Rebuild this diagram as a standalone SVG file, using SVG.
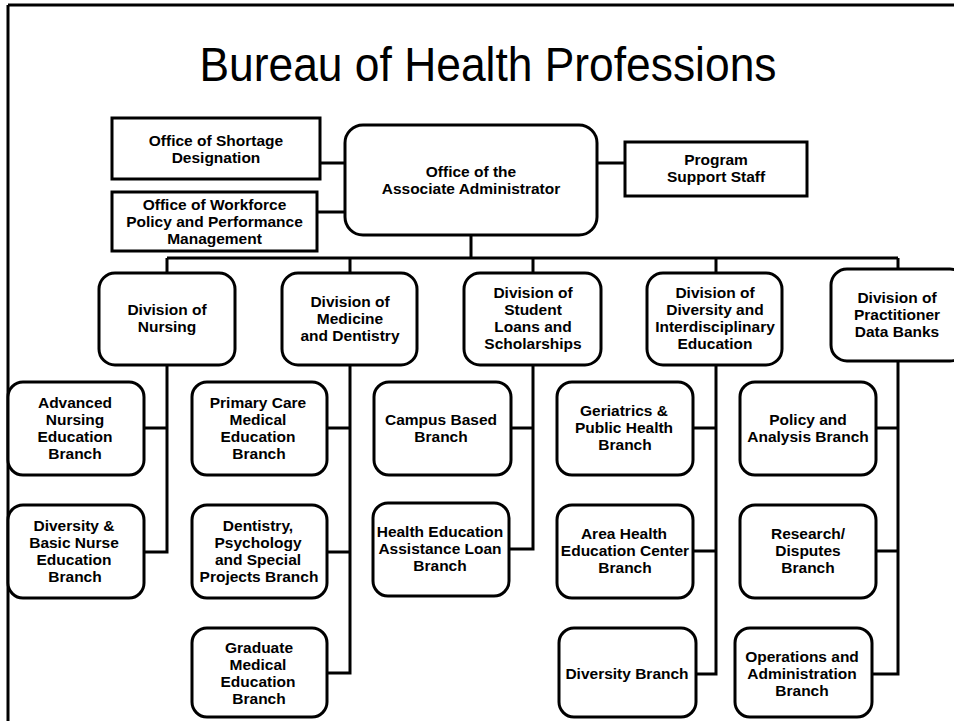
<svg xmlns="http://www.w3.org/2000/svg" width="954" height="721" viewBox="0 0 954 721">
<style>
.box{fill:#fff;stroke:#000;stroke-width:3}
.ln{fill:none;stroke:#000;stroke-width:3}
.t{font-family:"Liberation Sans",Arial,sans-serif;font-weight:bold;font-size:15.5px;text-anchor:middle;fill:#000}
.title{font-family:"Liberation Sans",Arial,sans-serif;font-size:49px;text-anchor:middle;fill:#000}
</style>
<rect x="0" y="0" width="954" height="721" fill="#fff"/>
<g id="frame"><path class="ln" d="M8 5 H954 M8 5 V721" stroke-width="2.5"/></g>
<text class="title" x="488" y="81" textLength="577" lengthAdjust="spacingAndGlyphs">Bureau of Health Professions</text>

<g id="connectors">
<path class="ln" d="M320 163 H345 M317 212 H345 M597 163 H625 M471 235 V258 M167 258 H898"/>
<path class="ln" d="M167 258 V273 M350 258 V273 M533 258 V273 M716 258 V273 M898 258 V269"/>
<path class="ln" d="M167 365 V553.5 M144 428 H167 M144 552 H168.5"/>
<path class="ln" d="M350 365 V674.5 M327 428 H350 M327 552 H350 M327 673 H351.5"/>
<path class="ln" d="M533 365 V550.5 M511 428 H533 M509 549 H534.5"/>
<path class="ln" d="M716 365 V675.5 M693 428 H716 M693 551 H716 M696 674 H717.5"/>
<path class="ln" d="M898 361 V675.5 M876 428 H898 M876 551 H898 M872 674 H899.5"/>
</g>

<g id="shortage"><rect class="box" x="112" y="118" width="208" height="61"/>
<text class="t" x="216"><tspan x="216" y="146">Office of Shortage</tspan><tspan x="216" y="163">Designation</tspan></text></g>
<g id="workforce"><rect class="box" x="112" y="192" width="205" height="59"/>
<text class="t"><tspan x="214.5" y="210">Office of Workforce</tspan><tspan x="214.5" y="227">Policy and Performance</tspan><tspan x="214.5" y="244">Management</tspan></text></g>
<g id="oaa"><rect class="box" x="345" y="125" width="252" height="110" rx="18"/>
<text class="t"><tspan x="471" y="177">Office of the</tspan><tspan x="471" y="194">Associate Administrator</tspan></text></g>
<g id="program"><rect class="box" x="625" y="142" width="182" height="54"/>
<text class="t"><tspan x="716" y="165">Program</tspan><tspan x="716" y="182">Support Staff</tspan></text></g>

<g id="div-nursing"><rect class="box" x="99" y="273" width="136" height="92" rx="16"/>
<text class="t"><tspan x="167" y="315">Division of</tspan><tspan x="167" y="332">Nursing</tspan></text></g>
<g id="div-medicine"><rect class="box" x="282" y="273" width="135" height="92" rx="16"/>
<text class="t"><tspan x="350" y="307">Division of</tspan><tspan x="350" y="324">Medicine</tspan><tspan x="350" y="341">and Dentistry</tspan></text></g>
<g id="div-student"><rect class="box" x="464" y="273" width="137" height="92" rx="16"/>
<text class="t"><tspan x="533" y="298">Division of</tspan><tspan x="533" y="315">Student</tspan><tspan x="533" y="332">Loans and</tspan><tspan x="533" y="349">Scholarships</tspan></text></g>
<g id="div-diversity"><rect class="box" x="647" y="273" width="135" height="92" rx="16"/>
<text class="t"><tspan x="715" y="298">Division of</tspan><tspan x="715" y="315">Diversity and</tspan><tspan x="715" y="332">Interdisciplinary</tspan><tspan x="715" y="349">Education</tspan></text></g>
<g id="div-practitioner"><rect class="box" x="831" y="269" width="135" height="92" rx="16"/>
<text class="t"><tspan x="897" y="303">Division of</tspan><tspan x="897" y="320">Practitioner</tspan><tspan x="897" y="337">Data Banks</tspan></text></g>

<g id="advanced-nursing"><rect class="box" x="8" y="382" width="136" height="93" rx="15"/>
<text class="t"><tspan x="75" y="408">Advanced</tspan><tspan x="75" y="425">Nursing</tspan><tspan x="75" y="442">Education</tspan><tspan x="75" y="459">Branch</tspan></text></g>
<g id="diversity-basic"><rect class="box" x="8" y="505" width="136" height="93" rx="15"/>
<text class="t"><tspan x="74" y="531">Diversity &amp;</tspan><tspan x="74" y="548">Basic Nurse</tspan><tspan x="74" y="565">Education</tspan><tspan x="75" y="582">Branch</tspan></text></g>

<g id="primary-care"><rect class="box" x="192" y="382" width="135" height="93" rx="15"/>
<text class="t"><tspan x="258" y="408">Primary Care</tspan><tspan x="258" y="425">Medical</tspan><tspan x="258" y="442">Education</tspan><tspan x="259" y="459">Branch</tspan></text></g>
<g id="dentistry"><rect class="box" x="192" y="505" width="135" height="93" rx="15"/>
<text class="t"><tspan x="258" y="531">Dentistry,</tspan><tspan x="258" y="548">Psychology</tspan><tspan x="258" y="565">and Special</tspan><tspan x="259" y="582">Projects Branch</tspan></text></g>
<g id="graduate"><rect class="box" x="192" y="628" width="135" height="89" rx="15"/>
<text class="t"><tspan x="259" y="653">Graduate</tspan><tspan x="258" y="670">Medical</tspan><tspan x="258" y="687">Education</tspan><tspan x="259" y="704">Branch</tspan></text></g>

<g id="campus"><rect class="box" x="374" y="382" width="137" height="93" rx="15"/>
<text class="t"><tspan x="441" y="425">Campus Based</tspan><tspan x="441" y="442">Branch</tspan></text></g>
<g id="heal"><rect class="box" x="373" y="503" width="136" height="93" rx="15"/>
<text class="t"><tspan x="440" y="537">Health Education</tspan><tspan x="440" y="554">Assistance Loan</tspan><tspan x="440" y="571">Branch</tspan></text></g>

<g id="geriatrics"><rect class="box" x="557" y="382" width="136" height="93" rx="15"/>
<text class="t"><tspan x="624" y="416">Geriatrics &amp;</tspan><tspan x="624" y="433">Public Health</tspan><tspan x="625" y="450">Branch</tspan></text></g>
<g id="ahec"><rect class="box" x="557" y="505" width="136" height="93" rx="15"/>
<text class="t"><tspan x="624" y="539">Area Health</tspan><tspan x="625" y="556">Education Center</tspan><tspan x="625" y="573">Branch</tspan></text></g>
<g id="diversity-branch"><rect class="box" x="559" y="628" width="137" height="89" rx="15"/>
<text class="t"><tspan x="627" y="679">Diversity Branch</tspan></text></g>

<g id="policy"><rect class="box" x="740" y="382" width="136" height="93" rx="15"/>
<text class="t"><tspan x="808" y="425">Policy and</tspan><tspan x="808" y="442">Analysis Branch</tspan></text></g>
<g id="research"><rect class="box" x="740" y="505" width="136" height="93" rx="15"/>
<text class="t"><tspan x="808" y="539">Research/</tspan><tspan x="808" y="556">Disputes</tspan><tspan x="808" y="573">Branch</tspan></text></g>
<g id="operations"><rect class="box" x="735" y="628" width="137" height="89" rx="15"/>
<text class="t"><tspan x="802" y="662">Operations and</tspan><tspan x="802" y="679">Administration</tspan><tspan x="802" y="696">Branch</tspan></text></g>
</svg>
